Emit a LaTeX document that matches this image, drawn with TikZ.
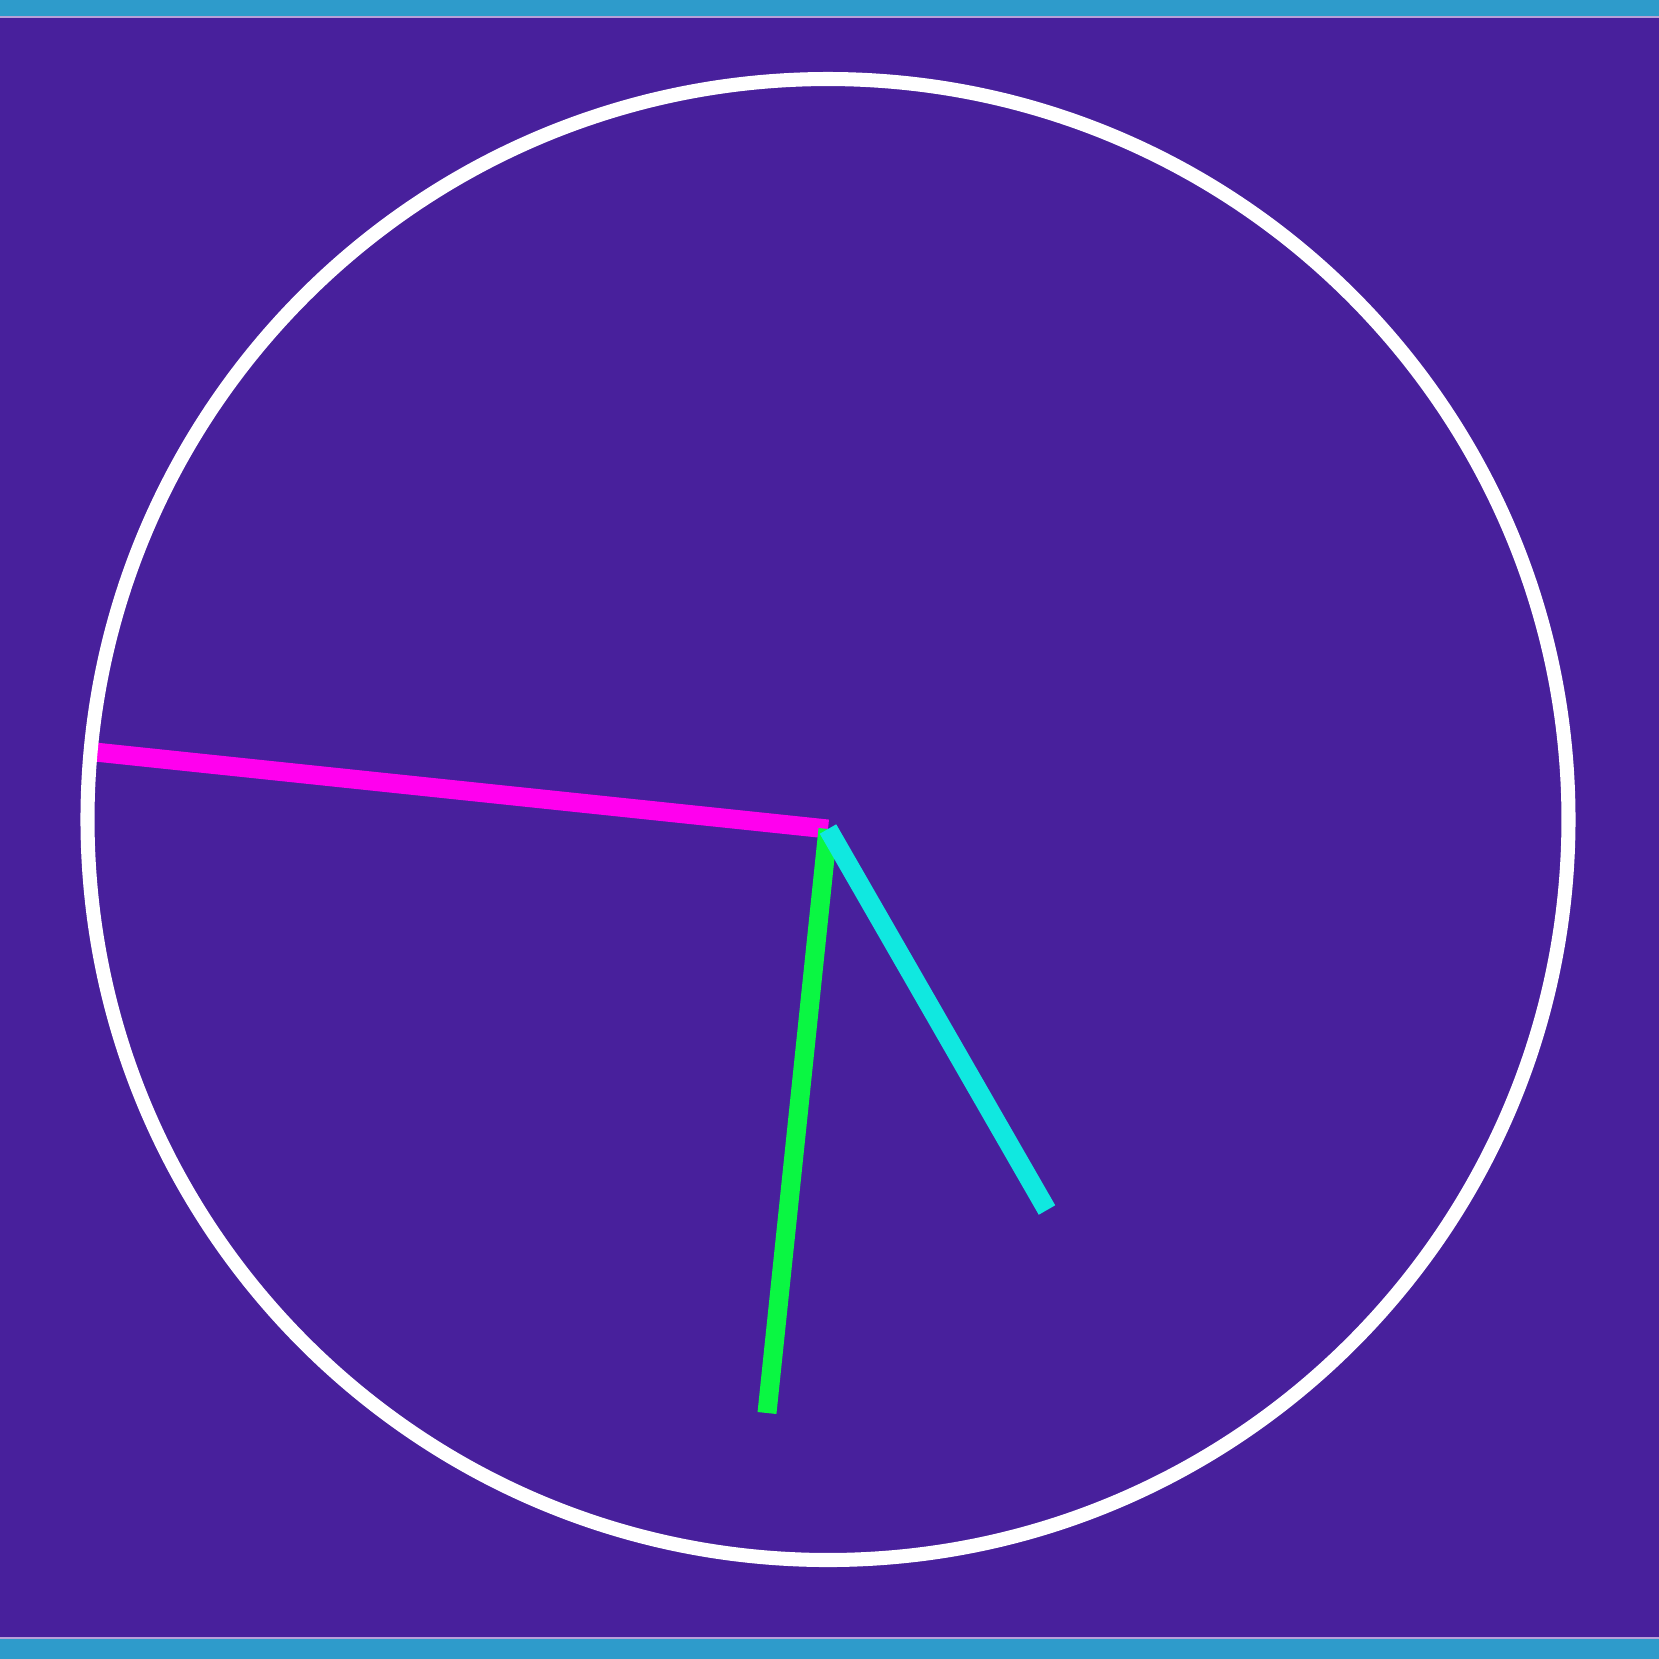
\documentclass[tikz,border=0pt]{standalone}
\definecolor{bgpurple}{RGB}{72,32,156}
\definecolor{barblue}{RGB}{46,155,203}
\definecolor{barline}{RGB}{184,160,216}
\definecolor{handpink}{RGB}{255,0,238}
\definecolor{handgreen}{RGB}{10,247,66}
\definecolor{handcyan}{RGB}{16,232,224}
\begin{document}
\begin{tikzpicture}[x=0.01cm,y=-0.01cm]
		\tikzstyle{hand}=[line width=5.4pt]
		\tikzstyle{dial}=[draw=white,line width=4pt]

		\useasboundingbox (0,0) rectangle (1659,1659);
		\fill[bgpurple] (0,0) rectangle (1659,1659);
		\fill[barline] (0,15) rectangle (1659,18);
		\fill[barblue] (0,0) rectangle (1659,16);
		\fill[barline] (0,1636.5) rectangle (1659,1639.5);
		\fill[barblue] (0,1639) rectangle (1659,1659);

		\coordinate (ctr) at (828,829);
		\coordinate (hr) at (95,752);
		\coordinate (mn) at (767,1413);
		\coordinate (sc) at (1047,1210);

		\draw[hand, handpink] (hr) -- (ctr);
		\draw[hand, handgreen] (ctr) -- (mn);
		\draw[hand, handcyan] (ctr) -- (sc);

		\draw[dial] (828,819.5) circle (740.5);
	\end{tikzpicture}
\end{document}
